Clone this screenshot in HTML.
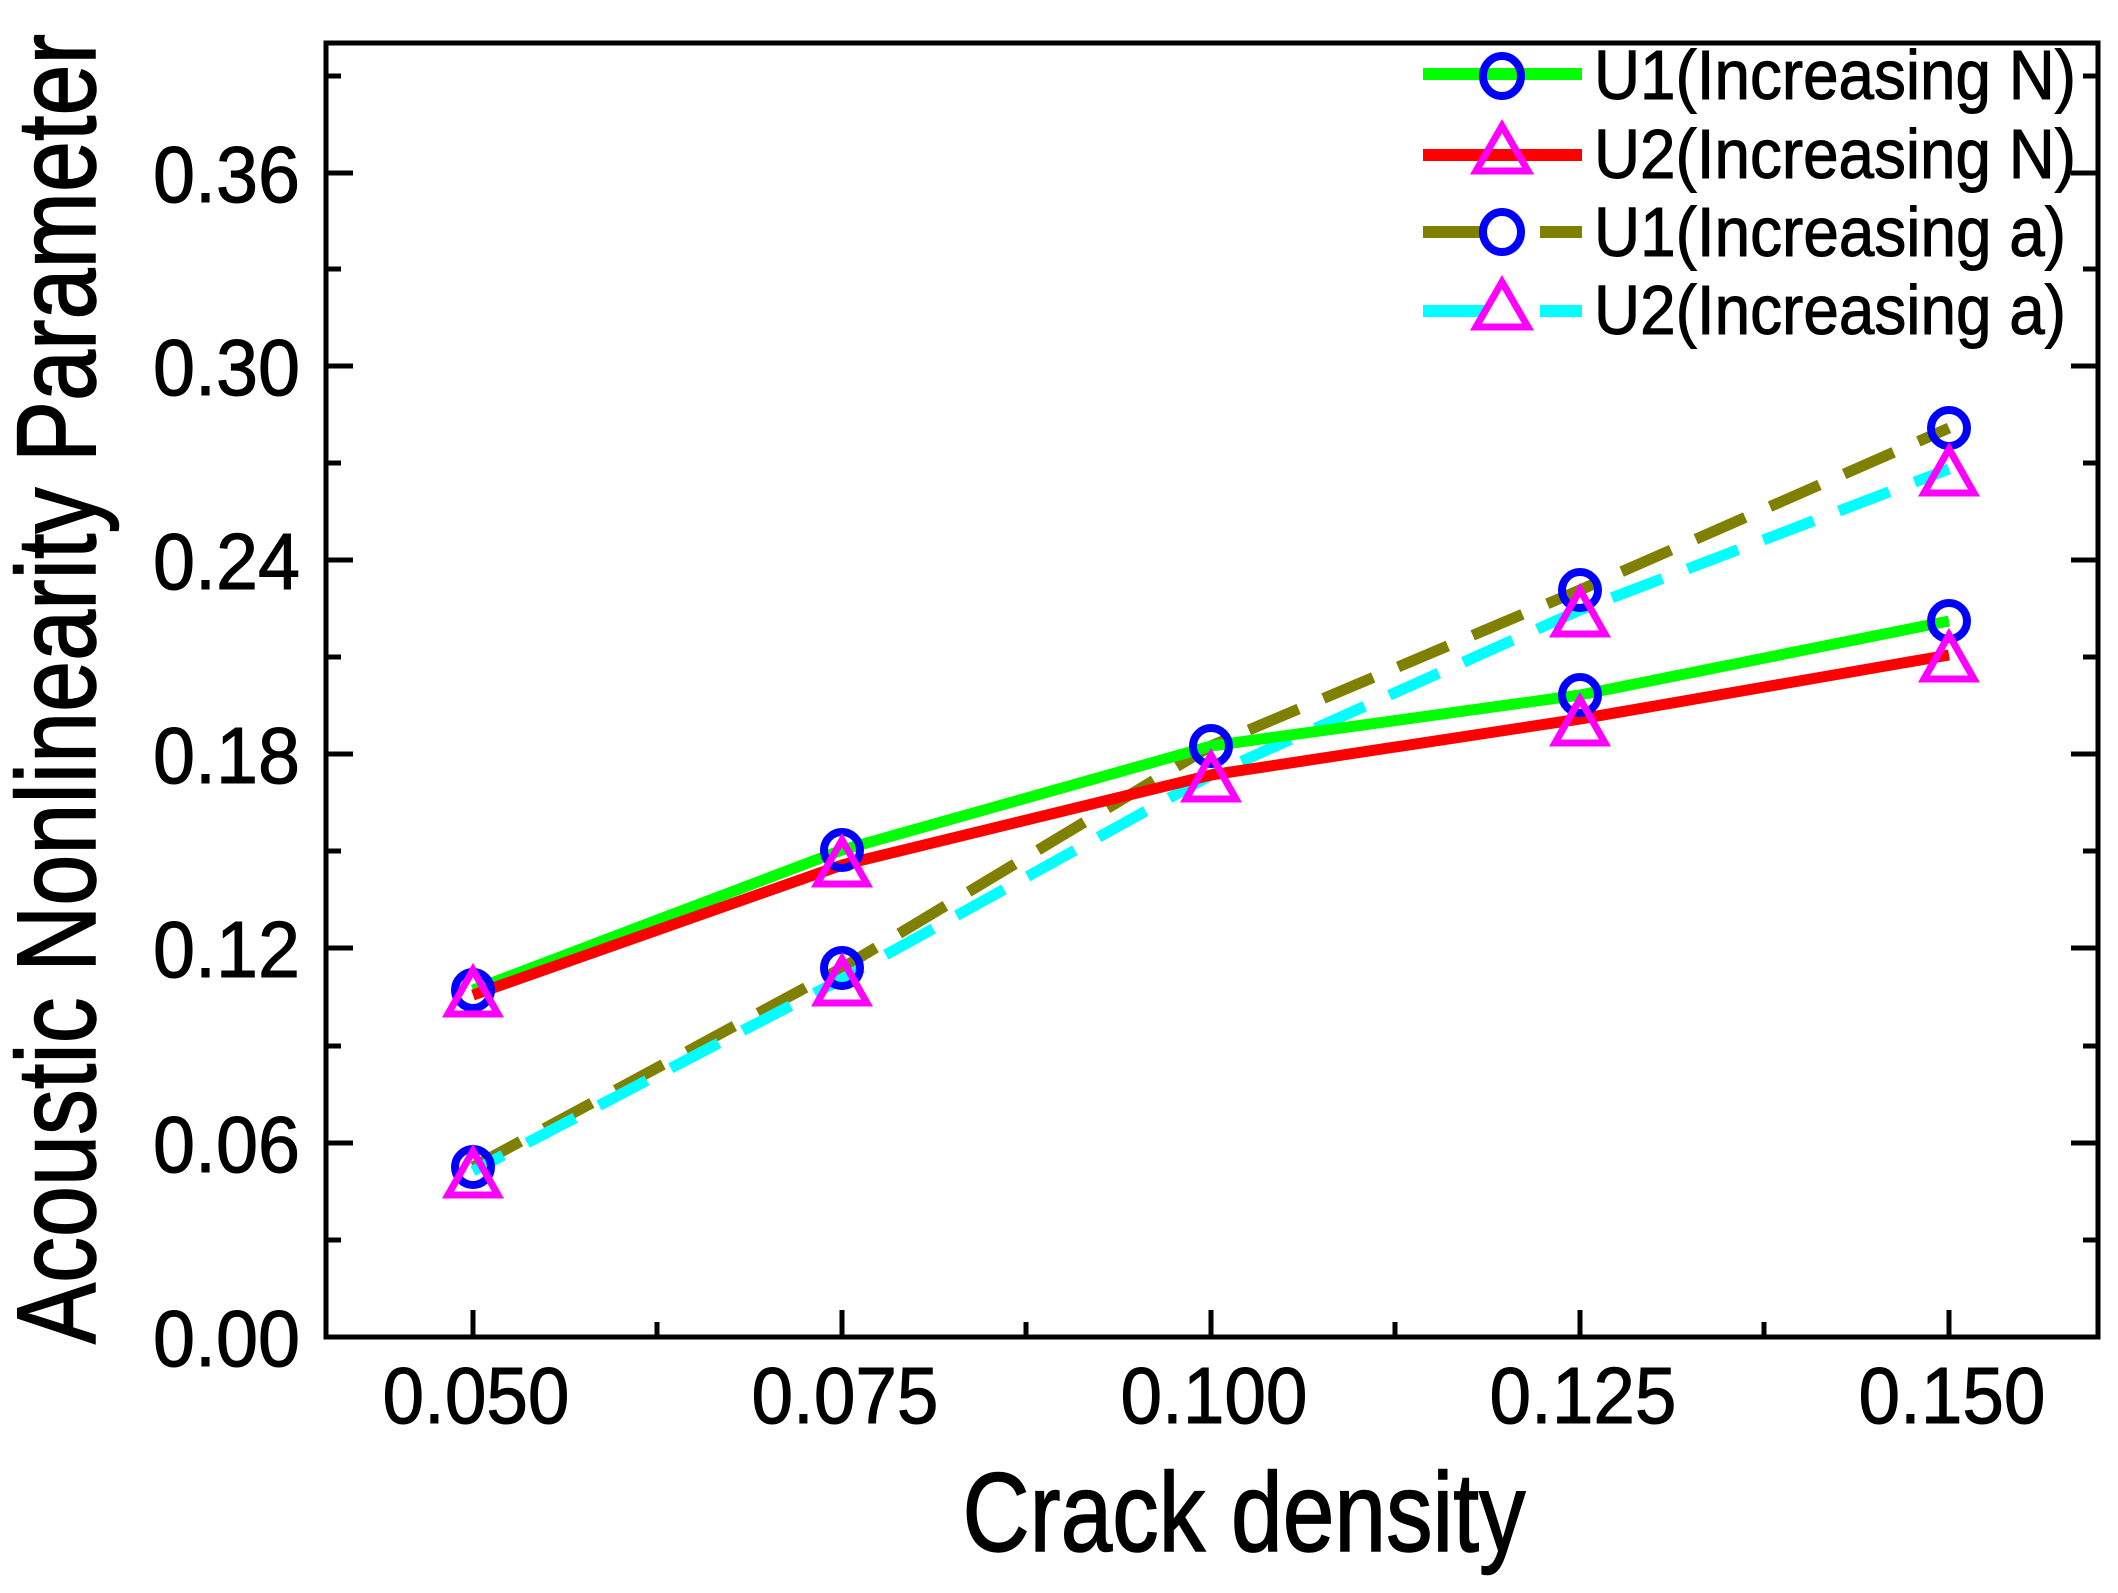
<!DOCTYPE html>
<html><head><meta charset="utf-8"><style>body{margin:0;background:#fff}svg{display:block}</style></head>
<body>
<svg width="2118" height="1593" viewBox="0 0 2118 1593" xmlns="http://www.w3.org/2000/svg" font-family="Liberation Sans, Arial, sans-serif">
<rect width="2118" height="1593" fill="#fff"/>
<g stroke="#000" stroke-width="5" fill="none">
<rect x="326" y="43" width="1772" height="1294"/>
<path d="M473 1337v-27M842 1337v-27M1211 1337v-27M1580 1337v-27M1949 1337v-27
M657 1337v-15M1026 1337v-15M1395 1337v-15M1764 1337v-15"/>
<path d="M326 1143h27M326 948h27M326 754h27M326 560h27M326 366h27M326 173h27
M326 1240h15M326 1046h15M326 851h15M326 657h15M326 463h15M326 269h15M326 76h15"/>
<path d="M2098 1143h-27M2098 948h-27M2098 754h-27M2098 560h-27M2098 366h-27M2098 173h-27
M2098 1240h-15M2098 1046h-15M2098 851h-15M2098 657h-15M2098 463h-15M2098 269h-15M2098 76h-15"/>
</g>
<g font-size="80" text-anchor="middle" fill="#000" stroke="#000" stroke-width="1">
<text x="476" y="1423" textLength="187" lengthAdjust="spacingAndGlyphs">0.050</text>
<text x="845" y="1423" textLength="187" lengthAdjust="spacingAndGlyphs">0.075</text>
<text x="1214" y="1423" textLength="187" lengthAdjust="spacingAndGlyphs">0.100</text>
<text x="1583" y="1423" textLength="187" lengthAdjust="spacingAndGlyphs">0.125</text>
<text x="1952" y="1423" textLength="187" lengthAdjust="spacingAndGlyphs">0.150</text>
</g>
<g font-size="80" text-anchor="end" fill="#000" stroke="#000" stroke-width="1">
<text x="300" y="1366" textLength="147" lengthAdjust="spacingAndGlyphs">0.00</text>
<text x="300" y="1172" textLength="147" lengthAdjust="spacingAndGlyphs">0.06</text>
<text x="300" y="977" textLength="147" lengthAdjust="spacingAndGlyphs">0.12</text>
<text x="300" y="783" textLength="147" lengthAdjust="spacingAndGlyphs">0.18</text>
<text x="300" y="589" textLength="147" lengthAdjust="spacingAndGlyphs">0.24</text>
<text x="300" y="395" textLength="147" lengthAdjust="spacingAndGlyphs">0.30</text>
<text x="300" y="202" textLength="147" lengthAdjust="spacingAndGlyphs">0.36</text>
</g>
<g stroke="#000" stroke-width="1.5">
<text x="1244" y="1551" font-size="112" text-anchor="middle" textLength="563" lengthAdjust="spacingAndGlyphs">Crack density</text>
<text transform="translate(95,689) rotate(-90)" font-size="112" text-anchor="middle" textLength="1310" lengthAdjust="spacingAndGlyphs">Acoustic Nonlinearity Parameter</text>
</g>
<g fill="none" stroke-width="11" stroke-linejoin="round">
<polyline stroke="#808000" stroke-dasharray="54,27" points="473,1167 842,968 1211,746 1580,590 1949,428"/>
<polyline stroke="#00ffff" stroke-dasharray="54,27" stroke-dashoffset="20" points="473,1171 842,979 1211,775 1580,610 1949,469"/>
<polyline stroke="#00ff00" points="473,990 842,850 1211,746 1580,695 1949,621"/>
<polyline stroke="#ff0000" points="473,995 842,865 1211,775 1580,719 1949,655"/>
</g>
<g fill="none" stroke="#0000ff" stroke-width="8">
<circle cx="473" cy="990" r="18"/><circle cx="842" cy="850" r="18"/><circle cx="1211" cy="746" r="18"/><circle cx="1580" cy="695" r="18"/><circle cx="1949" cy="621" r="18"/>
<circle cx="473" cy="1167" r="18"/><circle cx="842" cy="968" r="18"/><circle cx="1580" cy="590" r="18"/><circle cx="1949" cy="428" r="18"/>
</g>
<g fill="none" stroke="#ff00ff" stroke-width="7" stroke-linejoin="miter">
<path d="M473 970l-25 44h50zM842 840l-25 44h50zM1211 755l-25 44h50zM1580 699l-25 44h50zM1949 635l-25 44h50z
M473 1151l-25 44h50zM842 959l-25 44h50zM1580 590l-25 44h50zM1949 449l-25 44h50z"/>
</g>
<g stroke-width="12">
<line x1="1423" y1="74" x2="1582" y2="74" stroke="#00ff00"/>
<line x1="1423" y1="155" x2="1582" y2="155" stroke="#ff0000"/>
<path d="M1423 232h62M1540 232h42" stroke="#808000"/>
<path d="M1423 311h62M1540 311h42" stroke="#00ffff"/>
</g>
<ellipse cx="1502" cy="76" rx="19" ry="20" fill="none" stroke="#0000ff" stroke-width="8"/>
<ellipse cx="1502" cy="232" rx="19" ry="20" fill="none" stroke="#0000ff" stroke-width="8"/>
<path d="M1502 126l-26 45h52zM1502 282l-26 45h52z" fill="none" stroke="#ff00ff" stroke-width="7"/>
<g font-size="70" fill="#000" stroke="#000" stroke-width="1">
<text x="1594" y="99" textLength="482" lengthAdjust="spacingAndGlyphs">U1(Increasing N)</text>
<text x="1594" y="178" textLength="482" lengthAdjust="spacingAndGlyphs">U2(Increasing N)</text>
<text x="1594" y="256" textLength="472" lengthAdjust="spacingAndGlyphs">U1(Increasing a)</text>
<text x="1594" y="334" textLength="472" lengthAdjust="spacingAndGlyphs">U2(Increasing a)</text>
</g>
</svg>
</body></html>
